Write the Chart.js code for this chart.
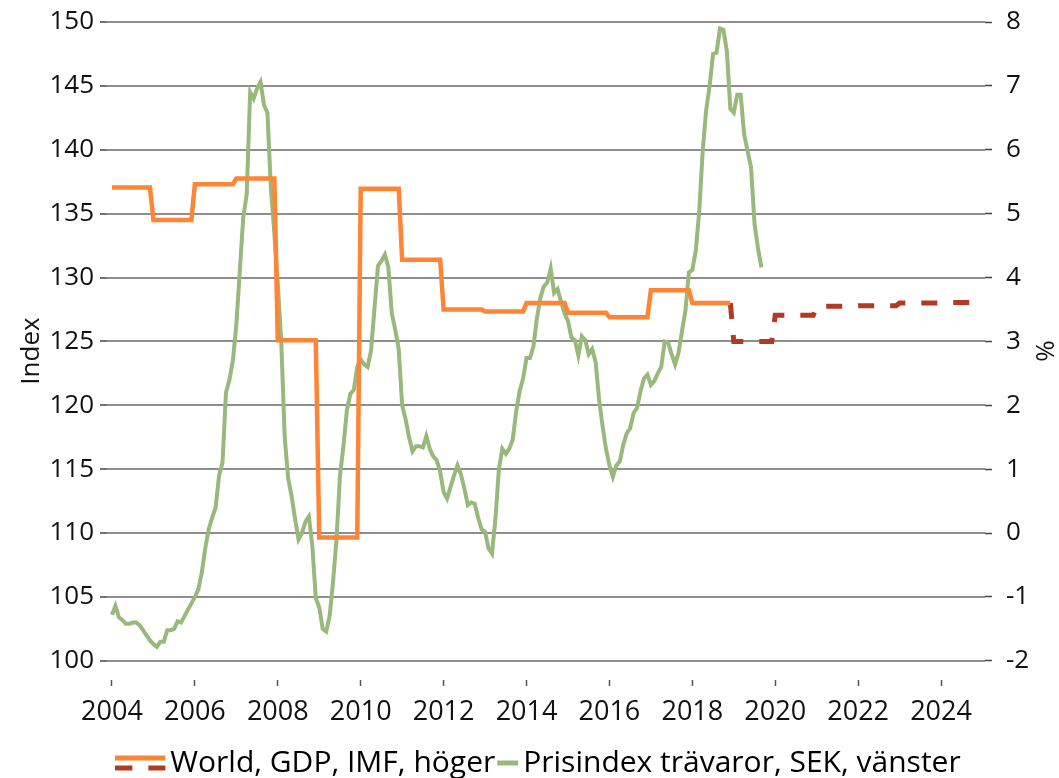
<!DOCTYPE html>
<html>
<head>
<meta charset="utf-8">
<script src="https://cdn.jsdelivr.net/npm/chart.js@4.4.0/dist/chart.umd.min.js"></script>
<style>
html, body { margin: 0; padding: 0; background: #fff; }
</style>
</head>
<body>
<canvas id="chart" width="1059" height="778"></canvas>
<script>
// Prisindex trävaror, SEK (vänster axel), månadsdata från jan 2004
var prisStartYear = 2004;
var prisindex = [
  103.6, 104.3, 103.4, 103.2, 102.9, 102.9, 103.0, 103.0, 102.8, 102.4, 102.0, 101.6,
  101.3, 101.1, 101.5, 101.5, 102.4, 102.4, 102.5, 103.1, 103.0, 103.5, 104.0, 104.5,
  105.0, 105.6, 106.9, 108.8, 110.3, 111.2, 112.0, 114.5, 115.5, 121.0, 122.0, 123.5,
  126.3, 130.5, 134.7, 136.5, 144.5, 144.0, 144.8, 145.3, 143.5, 142.9, 137.0, 133.5,
  129.5, 125.0, 117.5, 114.3, 112.9, 111.1, 109.5, 110.0, 110.9, 111.3, 109.0, 104.9,
  104.2, 102.5, 102.3, 103.5, 106.2, 109.5, 114.5, 116.8, 119.6, 120.9, 121.2, 123.0,
  123.6, 123.2, 123.0, 124.3, 127.6, 130.9, 131.3, 131.8, 130.8, 127.2, 125.9, 124.4,
  120.0, 118.9, 117.5, 116.4, 116.8, 116.8, 116.7, 117.6, 116.6, 116.0, 115.7, 114.8,
  113.2, 112.7, 113.6, 114.5, 115.3, 114.6, 113.5, 112.2, 112.4, 112.3, 111.2, 110.3,
  110.1, 108.8, 108.4, 111.1, 115.0, 116.6, 116.2, 116.6, 117.3, 119.5, 121.1, 122.1,
  123.7, 123.7, 124.6, 126.8, 128.4, 129.3, 129.6, 130.7, 128.8, 129.1, 128.1, 127.2,
  126.6, 125.3, 125.1, 123.9, 125.4, 125.1, 124.0, 124.4, 123.4, 120.5, 118.4, 116.6,
  115.3, 114.4, 115.3, 115.6, 116.9, 117.8, 118.2, 119.4, 119.8, 121.1, 122.1, 122.4,
  121.6, 121.9, 122.5, 123.0, 125.0, 124.9, 124.0, 123.2, 124.1, 125.8, 127.4, 130.4,
  130.6, 132.1, 135.2, 139.9, 143.1, 145.0, 147.5, 147.6, 149.5, 149.4, 147.7, 143.2,
  142.9, 144.3, 144.3, 141.2, 139.9, 138.6, 134.2, 132.3, 130.8
];

// World GDP, IMF (%, höger axel), årsdata
var gdpYears = [2004, 2005, 2006, 2007, 2008, 2009, 2010, 2011, 2012, 2013, 2014, 2015, 2016, 2017, 2018];
var gdpValues = [5.41, 4.9, 5.46, 5.55, 3.02, -0.07, 5.39, 4.28, 3.5, 3.47, 3.6, 3.45, 3.38, 3.8, 3.6];
// IMF-prognos
var forecastYears = [2019, 2020, 2021, 2022, 2023, 2024];
var forecastValues = [3.0, 3.41, 3.55, 3.56, 3.6, 3.61];

var xTickYears = [2004, 2006, 2008, 2010, 2012, 2014, 2016, 2018, 2020, 2022, 2024];
var leftTicks = [100, 105, 110, 115, 120, 125, 130, 135, 140, 145, 150];
var rightTicks = [-2, -1, 0, 1, 2, 3, 4, 5, 6, 7, 8];

var orange = '#fd8535';
var darkRed = '#b23a22';
var green = '#98b87c';

// each yearly value is held from January to December
function stepPoints(years, values) {
  var pts = [];
  years.forEach(function (y, i) {
    pts.push({ x: y, y: values[i] });
    pts.push({ x: y + 11 / 12, y: values[i] });
  });
  return pts;
}

var gdpData = stepPoints(gdpYears, gdpValues);
var lastGdp = gdpData[gdpData.length - 1];
var forecastData = [{ x: lastGdp.x, y: lastGdp.y }].concat(stepPoints(forecastYears, forecastValues));
var prisData = prisindex.map(function (v, i) {
  return { x: prisStartYear + i / 12, y: v };
});

function legendSymbol(draw) {
  var c = document.createElement('canvas');
  c.width = 70;
  c.height = 30;
  draw(c.getContext('2d'));
  return c;
}
var gdpSymbol = legendSymbol(function (g) {
  g.lineWidth = 5;
  g.strokeStyle = orange;
  g.beginPath(); g.moveTo(0, 10); g.lineTo(50, 10); g.stroke();
  g.strokeStyle = darkRed;
  g.beginPath(); g.moveTo(0, 20); g.lineTo(17, 20); g.moveTo(33, 20); g.lineTo(50, 20); g.stroke();
});
var prisSymbol = legendSymbol(function (g) {
  g.lineWidth = 5;
  g.strokeStyle = green;
  g.beginPath(); g.moveTo(29, 15); g.lineTo(50, 15); g.stroke();
});

// the GDP legend symbol sticks out to the left of its box, so move the row right a bit
var legendShift = {
  id: 'legendShift',
  afterLayout: function (chart) {
    chart.legend.left += 47;
  }
};

Chart.defaults.font.family = '"Open Sans", Roboto, sans-serif';
Chart.defaults.font.size = 26;
Chart.defaults.color = '#111';

var ctx = document.getElementById('chart').getContext('2d');
var chart = new Chart(ctx, {
  type: 'line',
  data: {
    datasets: [
      {
        label: 'World, GDP, IMF, höger',
        data: gdpData,
        yAxisID: 'yRight',
        borderColor: orange,
        borderWidth: 4.5,
        pointRadius: 0,
        tension: 0
      },
      {
        label: 'World, GDP, IMF, höger (prognos)',
        data: forecastData,
        yAxisID: 'yRight',
        borderColor: darkRed,
        borderWidth: 5,
        borderDash: [16, 16],
        pointRadius: 0,
        tension: 0
      },
      {
        label: 'Prisindex trävaror, SEK, vänster',
        data: prisData,
        yAxisID: 'yLeft',
        borderColor: green,
        borderWidth: 4,
        pointRadius: 0,
        tension: 0
      }
    ]
  },
  plugins: [legendShift],
  options: {
    responsive: false,
    animation: false,
    layout: { padding: { top: 22, left: 0, right: 0, bottom: -10 } },
    plugins: {
      tooltip: { enabled: false },
      legend: {
        position: 'bottom',
        labels: {
          usePointStyle: true,
          pointStyleWidth: 10,
          padding: 3,
          font: { size: 30 },
          color: '#111',
          generateLabels: function () {
            return [
              { text: 'World, GDP, IMF, höger', pointStyle: gdpSymbol, datasetIndex: 0, lineWidth: 0, strokeStyle: 'transparent', fillStyle: 'transparent' },
              { text: 'Prisindex trävaror, SEK, vänster', pointStyle: prisSymbol, datasetIndex: 2, lineWidth: 0, strokeStyle: 'transparent', fillStyle: 'transparent' }
            ];
          }
        }
      }
    },
    scales: {
      x: {
        type: 'linear',
        position: 'bottom',
        min: 2003.88,
        max: 2025.06,
        afterBuildTicks: function (scale) {
          scale.ticks = xTickYears.map(function (v) { return { value: v }; });
        },
        afterFit: function (scale) { scale.height = 65; },
        ticks: {
          autoSkip: false,
          maxRotation: 0,
          padding: 10,
          font: { size: 27 },
          callback: function (v) { return String(v); }
        },
        grid: { drawOnChartArea: false, tickLength: 6, tickColor: '#555', tickWidth: 1.5 },
        border: { display: false }
      },
      yLeft: {
        type: 'linear',
        position: 'left',
        min: 98.5,
        max: 150,
        afterBuildTicks: function (scale) {
          scale.ticks = leftTicks.map(function (v) { return { value: v }; });
        },
        afterFit: function (scale) {
          scale.width = 107;
          scale.paddingTop = 16;
          scale.paddingBottom = 16;
        },
        ticks: { padding: 6 },
        grid: { color: '#8e8e8e', lineWidth: 2, tickLength: 7, tickColor: '#444', tickWidth: 1.5 },
        border: { display: false },
        title: { display: true, text: 'Index', font: { size: 26 }, padding: { top: 16, bottom: 0 } }
      },
      yRight: {
        type: 'linear',
        position: 'right',
        min: -2.3,
        max: 8,
        afterBuildTicks: function (scale) {
          scale.ticks = rightTicks.map(function (v) { return { value: v }; });
        },
        afterFit: function (scale) {
          scale.width = 74;
          scale.paddingTop = 16;
          scale.paddingBottom = 16;
        },
        ticks: { padding: 14 },
        grid: { drawOnChartArea: false, tickLength: 7, tickColor: '#444', tickWidth: 1.5 },
        border: { display: false },
        title: { display: true, text: '%', font: { size: 26 }, padding: { top: 0, bottom: 0 } }
      }
    }
  }
});
</script>
</body>
</html>
